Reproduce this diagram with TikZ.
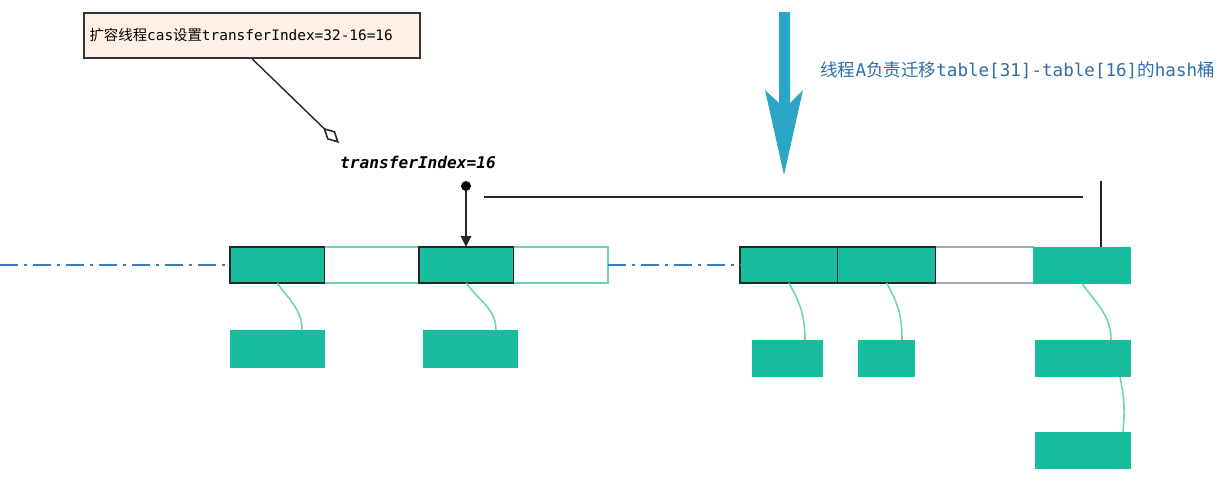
\documentclass[tikz,border=0pt]{standalone}
\usepackage{fontspec}
\newfontfamily\cjk{Noto Sans CJK SC}
\newfontfamily\mono{DejaVu Sans Mono}
\usetikzlibrary{arrows.meta,positioning}
\definecolor{bktteal}{RGB}{22,190,158}
\definecolor{bktline}{RGB}{110,210,185}
\definecolor{bktgray}{RGB}{160,170,190}
\definecolor{notefill}{RGB}{255,241,230}
\definecolor{axisblue}{RGB}{60,125,185}
\definecolor{arrowblue}{RGB}{43,166,196}
\definecolor{textblue}{RGB}{46,110,170}

\begin{document}
\begin{tikzpicture}[
      x=0.02cm, y=-0.02cm,
      cell/.style={minimum height=0.72cm, inner sep=0pt, outer sep=0pt, line width=0.8pt},
      full/.style={cell, fill=bktteal, draw=black!85},
      hole/.style={cell, fill=white, draw=bktline},
      chain/.style={fill=bktteal, minimum height=0.75cm, inner sep=0pt, outer sep=0pt},
      link/.style={draw=bktline, line width=0.9pt},
      axis/.style={draw=axisblue, line width=0.9pt, dash pattern=on 0.36cm off 0.12cm on 0.06cm off 0.12cm},
      wire/.style={draw=black!85, line width=0.8pt}
    ]
      \useasboundingbox (0,0) rectangle (1226,485);

      % 1. Note about the cas step
      \node[draw=black!80, fill=notefill, line width=0.8pt, minimum width=6.72cm, minimum height=0.9cm,
            text width=6.5cm, align=left, inner sep=0.11cm, font=\fontsize{8.2}{10}\selectfont] (note) at (252,35.5)
        {{\cjk 扩容线程}{\mono cas}{\cjk 设置}{\mono transferIndex=32-16=16}};
      \coordinate (dtip) at (339,143);
      \draw[wire, -{Diamond[open, length=4.4mm, width=2.3mm, line width=0.9pt]}] (note.south) -- (dtip);

      % 2. Current index
      \node[font=\mono\bfseries\itshape\fontsize{9.2}{11}\selectfont] (idx) at (418,162) {transferIndex=16};
      \node[circle, fill=black, minimum size=0.2cm, inner sep=0pt] (ptr) at (466,186) {};

      % 3. Table, first part
      \node[hole, minimum width=1.89cm] (a2) at (371.75,265) {};
      \node[hole, minimum width=1.89cm] (a4) at (560.75,265) {};
      \node[full, minimum width=1.89cm] (a1) at (277.25,265) {};
      \node[full, minimum width=1.89cm] (a3) at (466.25,265) {};

      % 4. Table, second part
      \node[cell, fill=white, draw=bktgray, minimum width=1.955cm] (c3) at (984.375,265) {};
      \node[full, minimum width=1.955cm] (c1) at (788.875,265) {};
      \node[full, minimum width=1.955cm] (c2) at (886.625,265) {};
      \node[chain, minimum width=1.955cm, minimum height=0.74cm] (c4) at (1082.125,265) {};

      \draw[axis] (0,265) -- (a1.west);
      \draw[axis] (a4.east) -- (c1.west);

      % 5. Bucket chains
      \node[chain, minimum width=1.9cm] (b1) at (277.5,349) {};
      \node[chain, minimum width=1.9cm] (b3) at (470.5,349) {};
      \node[chain, minimum width=1.42cm, minimum height=0.74cm] (d1) at (787.5,358.5) {};
      \node[chain, minimum width=1.14cm, minimum height=0.74cm] (d2) at (886.5,358.5) {};
      \node[chain, minimum width=1.92cm, minimum height=0.74cm] (d4) at (1083,358.5) {};
      \node[chain, minimum width=1.92cm, minimum height=0.74cm] (d5) at (1083,450.5) {};

      \draw[link] (a1.south) to[out=-55, in=90] ([xshift=0.49cm]b1.north);
      \draw[link] (a3.south) to[out=-55, in=90] ([xshift=0.51cm]b3.north);
      \draw[link] (c1.south) to[out=-60, in=90] ([xshift=0.35cm]d1.north);
      \draw[link] (c2.south) to[out=-60, in=90] ([xshift=0.31cm]d2.north);
      \draw[link] (c4.south) to[out=-55, in=90] ([xshift=0.56cm]d4.north);
      \draw[link] ([xshift=0.74cm]d4.south) to[out=-78, in=85] ([xshift=0.8cm]d5.north);

      % 6. Range of thread A
      \draw[wire, -{Triangle[length=2.2mm, width=2.1mm]}] (ptr) -- (ptr |- a3.north);
      \coordinate (hstart) at (484,197);
      \coordinate (hend) at (1083,197);
      \coordinate (rtop) at (1101,181);
      \draw[wire] (hstart) -- (hend);
      \draw[wire] (rtop) -- (rtop |- c4.north);

      \fill[arrowblue] (779,12) -- (790,12) -- (790,103) -- (803,90) -- (784,175)
        -- (765,90) -- (779,103) -- cycle;
      \node[anchor=west, inner sep=0pt, text=textblue, font=\fontsize{10}{12}\selectfont] (task) at (820,70)
        {{\cjk 线程}{\mono A}{\cjk 负责迁移}{\mono table[31]-table[16]}{\cjk 的}{\mono hash}{\cjk 桶}};
    \end{tikzpicture}
\end{document}
